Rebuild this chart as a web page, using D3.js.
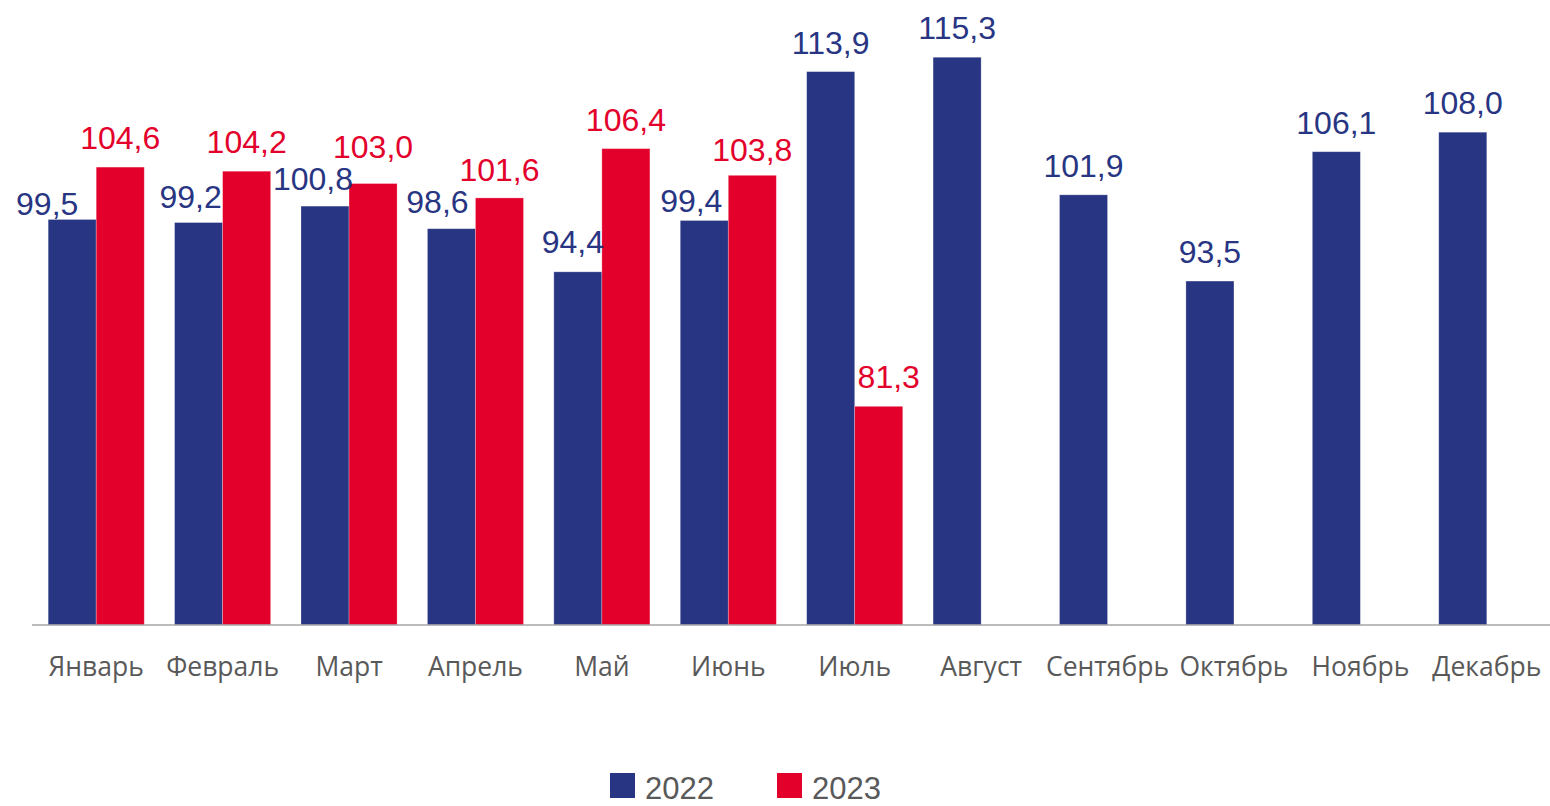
<!DOCTYPE html>
<html>
<head>
<meta charset="utf-8">
<script src="https://cdn.jsdelivr.net/npm/d3@7"></script>
<style>
  body { margin: 0; background: #fff; }
</style>
</head>
<body>
<div id="chart"></div>
<script>
var width = 1550;
var height = 806;

// data
var months = ["Январь", "Февраль", "Март", "Апрель", "Май", "Июнь", "Июль", "Август", "Сентябрь", "Октябрь", "Ноябрь", "Декабрь"];
var years = ["2022", "2023"];
var values2022 = [99.5, 99.2, 100.8, 98.6, 94.4, 99.4, 113.9, 115.3, 101.9, 93.5, 106.1, 108.0];
var values2023 = [104.6, 104.2, 103.0, 101.6, 106.4, 103.8, 81.3, null, null, null, null, null];

// hand-placed label nudges [dx, dy] (the original labels were dragged around)
var nudge2022 = [[-25, 14], [-8, 3], [-12, 2], [-14, 2], [-5, -1], [-13, 10], [0, 0], [0, 0], [0, 0], [0, 0], [0, 0], [0, 0]];
var nudge2023 = [[0, 0], [0, 0], [0, -8], [0, 1], [0, 0], [0, 4], [10, 0]];

var color = d3.scaleOrdinal().domain(years).range(["#283582", "#e3002b"]);

var svg = d3.select("#chart")
    .append("svg")
    .attr("width", width)
    .attr("height", height);

var x0 = d3.scaleBand()
    .domain(months)
    .range([33, 1550])
    .paddingInner(0.24)
    .paddingOuter(0.12);

var x1 = d3.scaleBand()
    .domain(years)
    .range([0, x0.bandwidth()]);

var y = d3.scaleLinear()
    .domain([60, 120])
    .range([625, 9]);

var rows = [];
months.forEach(function (m, i) {
    rows.push({ month: m, year: "2022", value: values2022[i], nudge: nudge2022[i] });
    if (values2023[i] != null)
        rows.push({ month: m, year: "2023", value: values2023[i], nudge: nudge2023[i] });
});

svg.selectAll(".bar")
    .data(rows)
    .enter().append("rect")
    .attr("class", "bar")
    .attr("x", function (d) { return x0(d.month) + x1(d.year); })
    .attr("y", function (d) { return y(d.value); })
    .attr("width", x1.bandwidth())
    .attr("height", function (d) { return y(60) - y(d.value); })
    .attr("fill", function (d) { return color(d.year); })
    .attr("stroke", "#ffffff")
    .attr("stroke-opacity", 0.35)
    .attr("stroke-width", 0.75);

svg.selectAll(".val")
    .data(rows)
    .enter().append("text")
    .attr("class", "val")
    .attr("x", function (d) { return x0(d.month) + x1(d.year) + x1.bandwidth() / 2 + d.nudge[0]; })
    .attr("y", function (d) { return y(d.value) - 18 + d.nudge[1]; })
    .attr("text-anchor", "middle")
    .attr("font-family", "Liberation Sans, Arial, sans-serif")
    .attr("font-size", "32px")
    .attr("fill", function (d) { return color(d.year); })
    .text(function (d) { return d3.format(".1f")(d.value).replace(".", ","); });

// x axis
var xAxis = svg.append("g")
    .attr("transform", "translate(0," + y(60) + ")")
    .call(d3.axisBottom(x0).tickSize(0).tickPadding(0).tickSizeOuter(0));

xAxis.select(".domain")
    .attr("d", "M32,0H1550")
    .attr("stroke", "#a6a6a6")
    .attr("stroke-width", 1.5);

xAxis.selectAll(".tick text")
    .attr("y", 51)
    .attr("dy", 0)
    .attr("font-family", "Open Sans, Noto Sans, sans-serif")
    .attr("font-size", "26.5px")
    .attr("fill", "#595959");

// legend
var legend = svg.selectAll(".legend")
    .data(years)
    .enter().append("g")
    .attr("class", "legend")
    .attr("transform", function (d, i) { return "translate(" + (610 + i * 167) + ",773)"; });

legend.append("rect")
    .attr("width", 25)
    .attr("height", 25)
    .attr("fill", function (d) { return color(d); });

legend.append("text")
    .attr("x", 35)
    .attr("y", 26)
    .attr("font-family", "Liberation Sans, Arial, sans-serif")
    .attr("font-size", "31px")
    .attr("fill", "#595959")
    .text(function (d) { return d; });
</script>
</body>
</html>
